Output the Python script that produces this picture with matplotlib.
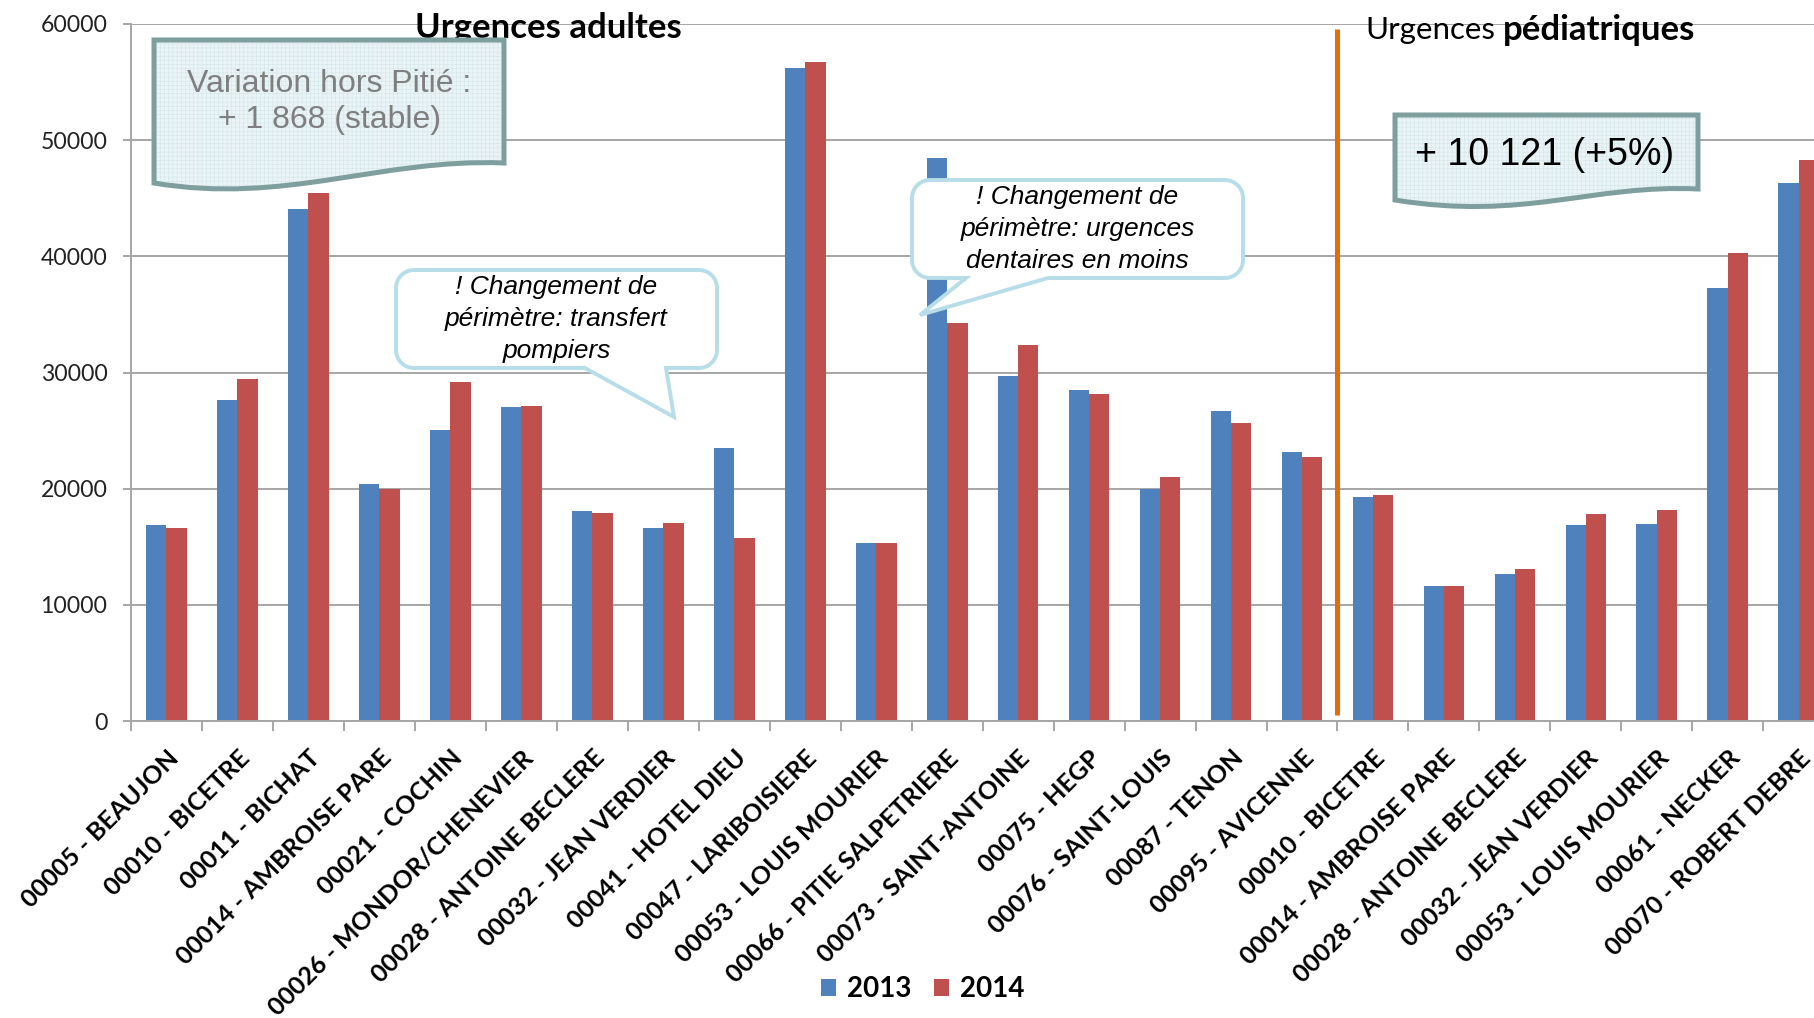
import matplotlib

matplotlib.use("Agg")
import matplotlib.pyplot as plt
import numpy as np
from matplotlib.patches import PathPatch
from matplotlib.path import Path
from matplotlib.transforms import Affine2D

# ---------------------------------------------------------------------------
# données
# ---------------------------------------------------------------------------
adult_sites = [
    "00005 - BEAUJON", "00010 - BICETRE", "00011 - BICHAT", "00014 - AMBROISE PARE",
    "00021 - COCHIN", "00026 - MONDOR/CHENEVIER", "00028 - ANTOINE BECLERE",
    "00032 - JEAN VERDIER", "00041 - HOTEL DIEU", "00047 - LARIBOISIERE",
    "00053 - LOUIS MOURIER", "00066 - PITIE SALPETRIERE", "00073 - SAINT-ANTOINE",
    "00075 - HEGP", "00076 - SAINT-LOUIS", "00087 - TENON", "00095 - AVICENNE",
]
ped_sites = [
    "00010 - BICETRE", "00014 - AMBROISE PARE", "00028 - ANTOINE BECLERE",
    "00032 - JEAN VERDIER", "00053 - LOUIS MOURIER", "00061 - NECKER",
    "00070 - ROBERT DEBRE",
]
passages_2013 = [16850, 27650, 44090, 20370, 25010, 26990, 18050, 16620, 23470, 56200,
                 15300, 48490, 29710, 28500, 20000, 26720, 23170,
                 19250, 11610, 12620, 16830, 16950, 37290, 46310]
passages_2014 = [16620, 29430, 45430, 20000, 29200, 27110, 17940, 17080, 15760, 56740,
                 15300, 34290, 32360, 28180, 21040, 25620, 22740,
                 19480, 11610, 13060, 17810, 18160, 40260, 48260]
years = ["2013", "2014"]
y_ticks = [0, 10000, 20000, 30000, 40000, 50000, 60000]
divider_span = (550, 59600)

BLUE = "#4F81BD"
RED = "#C0504D"
GRID = "#A6A6A6"

W, H = 1814, 1018
plt.rcParams["font.family"] = ["Lato", "DejaVu Sans"]
plt.rcParams["hatch.linewidth"] = 0.4

fig = plt.figure(figsize=(W / 100, H / 100), dpi=100)
# repère en pixels de l'image (origine en haut à gauche)
px = Affine2D().scale(1 / W, -1 / H).translate(0, 1) + fig.transFigure

labels = adult_sites + ped_sites
n = len(labels)
x = np.arange(n)
bw = 0.287

ax = fig.add_axes([131 / W, 1 - 721 / H, n * 70.97 / W, (721 - 24) / H])
b13 = ax.bar(x - bw / 2, passages_2013, bw, color=BLUE, zorder=2)
b14 = ax.bar(x + bw / 2, passages_2014, bw, color=RED, zorder=2)

ax.plot([len(adult_sites) - 0.5] * 2, divider_span, color="#E46C0A", lw=3.6,
        solid_capstyle="butt", zorder=3)

ax.set_xlim(-0.5, n - 0.5)
ax.set_ylim(y_ticks[0], y_ticks[-1])
ax.set_yticks(y_ticks)
ax.yaxis.grid(True, color=GRID, lw=1.4)
ax.set_axisbelow(True)
for s in ["top", "right"]:
    ax.spines[s].set_visible(False)
for s in ["left", "bottom"]:
    ax.spines[s].set_color(GRID)
    ax.spines[s].set_linewidth(1.4)

ax.set_xticks(x, labels)
ax.set_xticks(np.arange(n + 1) - 0.5, minor=True)
ax.tick_params(axis="x", which="major", length=0, pad=18)
ax.tick_params(axis="x", which="minor", length=7, width=1.4, color=GRID)
ax.tick_params(axis="y", length=6, width=1.4, color=GRID, pad=11, labelsize=16.6,
               labelcolor="#222222")
for t in ax.get_xticklabels():
    t.set_rotation(45)
    t.set_rotation_mode("anchor")
    t.set_ha("right")
    t.set_va("top")
    t.set_fontweight("bold")
    t.set_fontsize(18)

# titres des deux zones
fig.text(548, 28, "Urgences adultes", transform=px, ha="center", va="center",
         fontsize=25, fontweight="bold")
fig.text(1495, 30, "Urgences", transform=px, ha="right", va="center", fontsize=22.5)
fig.text(1503, 30, "pédiatriques", transform=px, ha="left", va="center",
         fontsize=25, fontweight="bold")


def document_path(x0, x1, top, bl, br, dip_x, dip_y):
    verts = [(x0, top), (x1, top), (x1, br),
             (x1 - 0.35 * (x1 - x0), br - 5), (dip_x + 40, dip_y + 14), (x0, bl),
             (x0, top)]
    codes = [Path.MOVETO, Path.LINETO, Path.LINETO,
             Path.CURVE4, Path.CURVE4, Path.CURVE4, Path.CLOSEPOLY]
    return Path(verts, codes)


def callout_path(x0, y0, x1, y1, r, ta, tb, tip):
    k = 0.5523 * r
    verts = [(x0 + r, y0), (x1 - r, y0),
             (x1 - r + k, y0), (x1, y0 + r - k), (x1, y0 + r),
             (x1, y1 - r),
             (x1, y1 - r + k), (x1 - r + k, y1), (x1 - r, y1),
             (tb, y1), tip, (ta, y1), (x0 + r, y1),
             (x0 + r - k, y1), (x0, y1 - r + k), (x0, y1 - r),
             (x0, y0 + r),
             (x0, y0 + r - k), (x0 + r - k, y0), (x0 + r, y0),
             (x0 + r, y0)]
    codes = ([Path.MOVETO, Path.LINETO] + [Path.CURVE4] * 3 + [Path.LINETO]
             + [Path.CURVE4] * 3 + [Path.LINETO] * 4 + [Path.CURVE4] * 3
             + [Path.LINETO] + [Path.CURVE4] * 3 + [Path.CLOSEPOLY])
    return Path(verts, codes)


def add_document(path):
    fig.add_artist(PathPatch(path, transform=px, facecolor="#EAF4F6", lw=0, zorder=4))
    fig.add_artist(PathPatch(path, transform=px, facecolor="none", edgecolor="#D3E6EA",
                             hatch="++++", lw=0, zorder=4))
    fig.add_artist(PathPatch(path, transform=px, facecolor="none", edgecolor="#7F9E9E",
                             lw=3.6, joinstyle="miter", zorder=4))


add_document(document_path(154, 504, 40, 183, 163, 245, 191))
fig.text(329, 102, "Variation hors Pitié :\n+ 1 868 (stable)", transform=px,
         ha="center", va="center", fontsize=23, color="#7F7F7F",
         family="Liberation Sans", linespacing=1.25, zorder=5)

add_document(document_path(1395, 1698, 115, 200, 189, 1485, 207))
fig.text(1545, 155, "+ 10 121 (+5%)", transform=px, ha="center", va="center",
         fontsize=27, family="Liberation Sans", zorder=5)

for box, tail, msg in [
    ((396, 270, 717, 368), (585, 666, (674, 417)),
     "! Changement de\npérimètre: transfert\npompiers"),
    ((912, 180, 1243, 278), (966, 1048, (920, 315)),
     "! Changement de\npérimètre: urgences\ndentaires en moins"),
]:
    bx0, by0, bx1, by1 = box
    fig.add_artist(PathPatch(callout_path(bx0, by0, bx1, by1, 18, *tail), transform=px,
                             facecolor="white", edgecolor="#B7DDE8", lw=2.8, zorder=4))
    fig.text((bx0 + bx1) / 2, (by0 + by1) / 2, msg, transform=px, ha="center",
             va="center", fontsize=19, style="italic", family="Liberation Sans",
             linespacing=1.4, zorder=5)

fig.legend([b13, b14], years, loc="center", bbox_to_anchor=(923 / W, 1 - 989 / H),
           ncol=2, frameon=False, prop=dict(weight="bold", size=20),
           handlelength=0.55, handleheight=0.55, handletextpad=0.4, columnspacing=0.8)

fig.savefig("out.png", dpi=100)
